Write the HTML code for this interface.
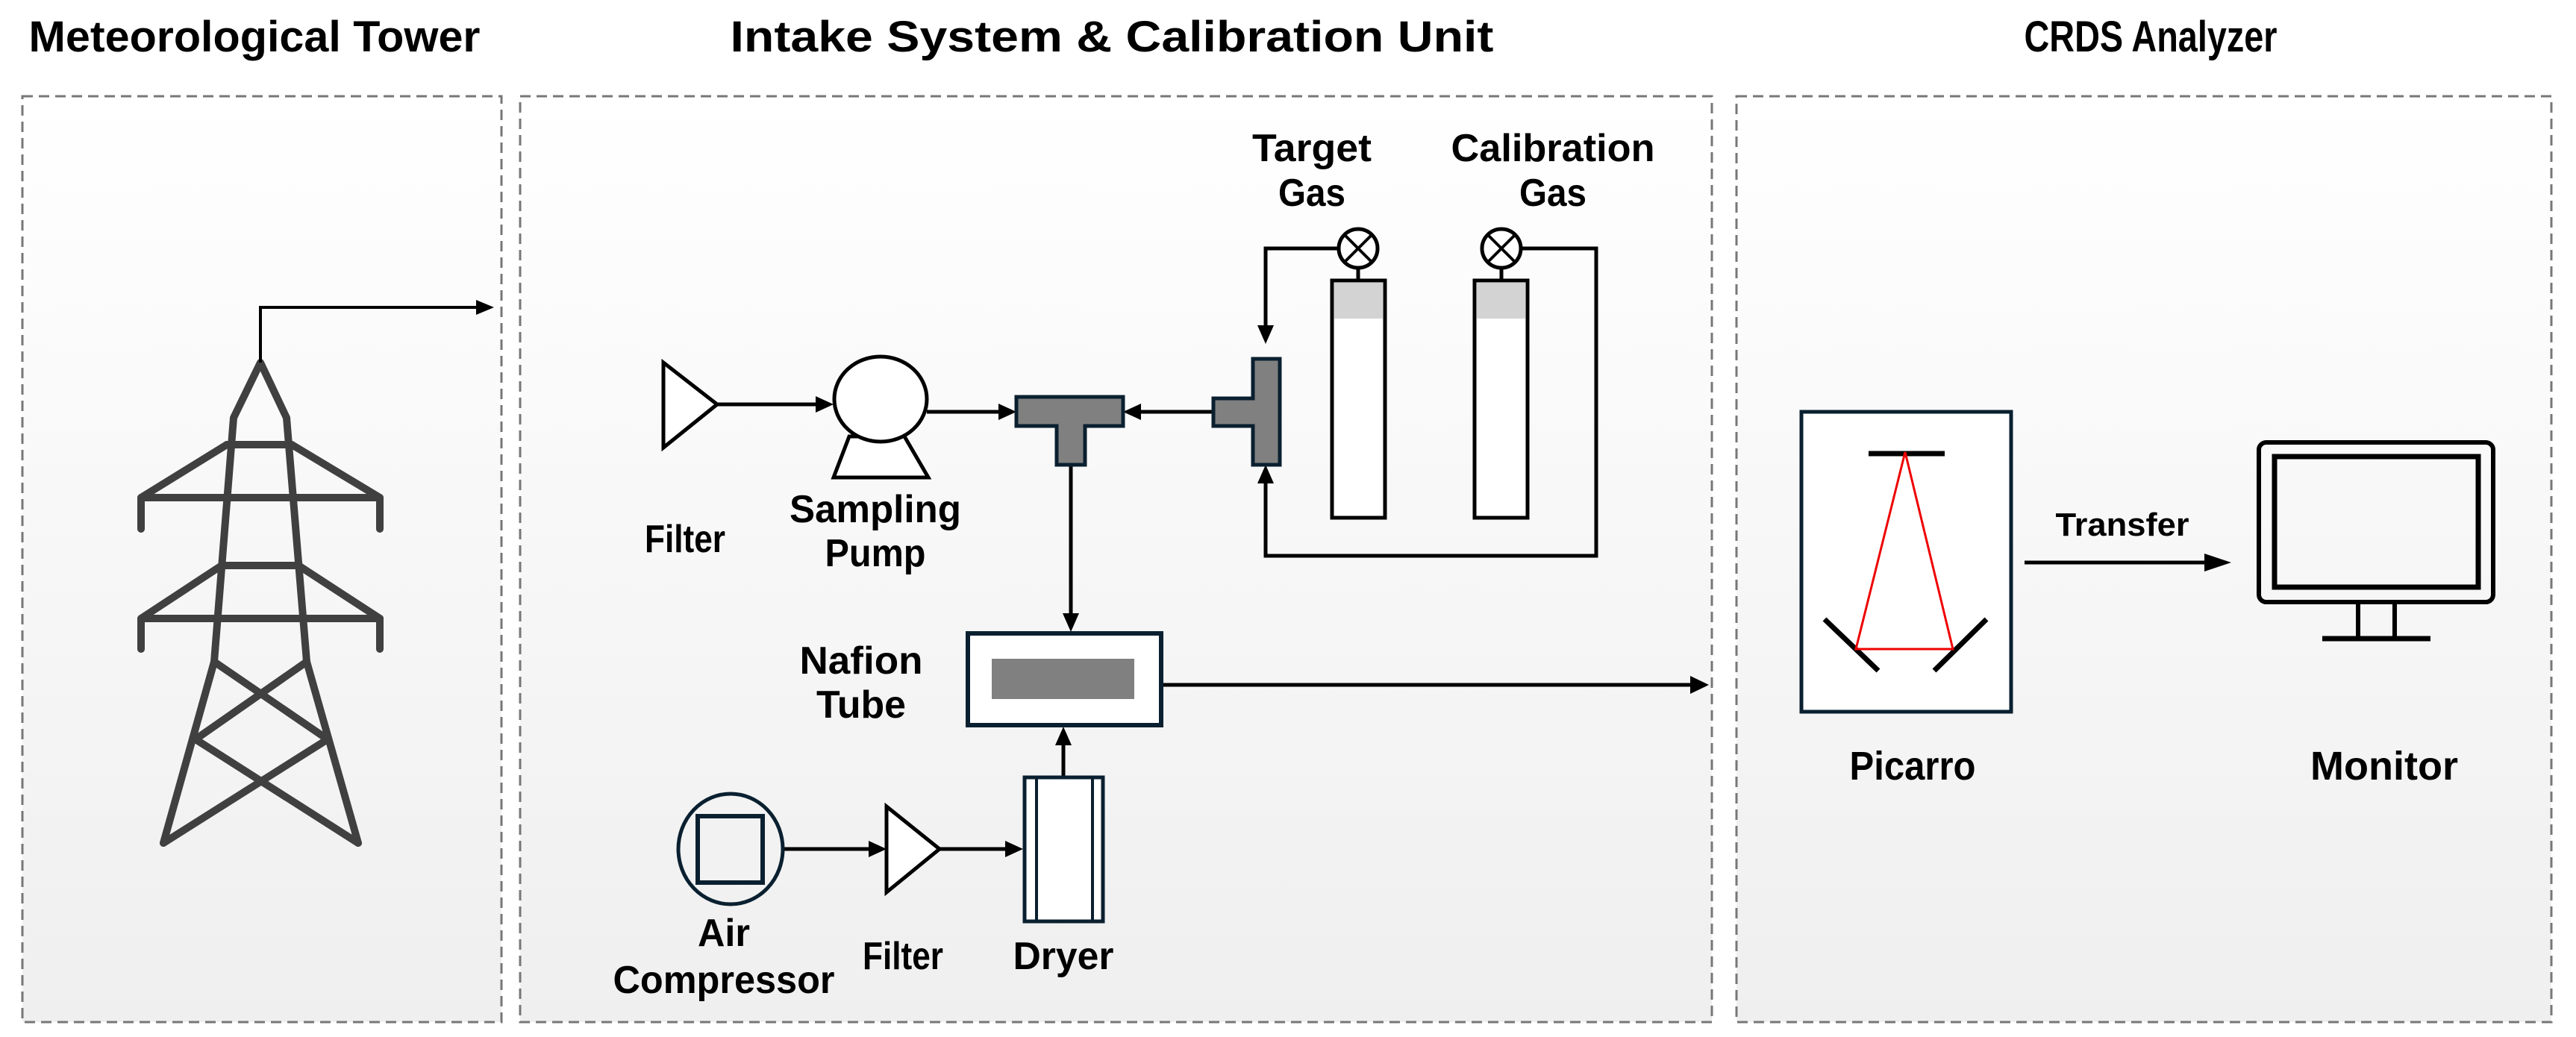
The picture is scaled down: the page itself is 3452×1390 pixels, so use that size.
<!DOCTYPE html>
<html><head><meta charset="utf-8">
<style>
html,body{margin:0;padding:0;background:#fff;}
svg{display:block;}
text{font-family:"Liberation Sans",sans-serif;font-weight:bold;fill:#000;}
</style></head>
<body>
<svg width="3452" height="1390" viewBox="0 0 3452 1390" xmlns="http://www.w3.org/2000/svg">
<defs>
<linearGradient id="bg" x1="0" y1="0" x2="0" y2="1">
<stop offset="0" stop-color="#ffffff"/><stop offset="1" stop-color="#efefef"/>
</linearGradient>
</defs>

<!-- titles -->
<text x="341" y="69" font-size="58" text-anchor="middle" textLength="605" lengthAdjust="spacingAndGlyphs">Meteorological Tower</text>
<text x="1490" y="69" font-size="58" text-anchor="middle" textLength="1023" lengthAdjust="spacingAndGlyphs">Intake System &amp; Calibration Unit</text>
<text x="2882" y="69" font-size="58" text-anchor="middle" textLength="339" lengthAdjust="spacingAndGlyphs">CRDS Analyzer</text>

<!-- panels -->
<g fill="url(#bg)" stroke="#777" stroke-width="3" stroke-dasharray="14 8">
<rect x="30" y="129" width="642" height="1241"/>
<rect x="697" y="129" width="1597" height="1241"/>
<rect x="2327" y="129" width="1092" height="1241"/>
</g>

<!-- tower -->
<g stroke="#404040" stroke-width="10" fill="none" stroke-linecap="round" stroke-linejoin="round">
<polyline points="287,887 313,560 349,486 384,560 411,887"/>
<line x1="304" y1="596" x2="391" y2="596"/>
<line x1="297" y1="758" x2="400" y2="758"/>
<polyline points="304,596 189,667 509,667 391,596"/>
<line x1="189" y1="667" x2="189" y2="709"/><line x1="509" y1="667" x2="509" y2="709"/>
<polyline points="297,758 189,829 509,829 400,758"/>
<line x1="189" y1="829" x2="189" y2="870"/><line x1="509" y1="829" x2="509" y2="870"/>
<line x1="287" y1="887" x2="219" y2="1130"/><line x1="411" y1="887" x2="480" y2="1130"/>
<line x1="287" y1="887" x2="439" y2="991"/><line x1="411" y1="887" x2="262" y2="991"/>
<line x1="262" y1="991" x2="480" y2="1130"/><line x1="439" y1="991" x2="219" y2="1130"/>
</g>
<polyline points="349,486 349,412 640,412" fill="none" stroke="#000" stroke-width="4"/>
<polygon points="662,412 638,402 638,422" fill="#000"/>

<!-- intake: lines -->
<g stroke="#000" stroke-width="5" fill="none">
<line x1="961" y1="542" x2="1095" y2="542"/>
<line x1="1242" y1="552" x2="1340" y2="552"/>
<line x1="1626" y1="552" x2="1527" y2="552"/>
<line x1="1435" y1="623" x2="1435" y2="826"/>
<polyline points="1793,333 1696,333 1696,440"/>
<polyline points="2039,333 2139,333 2139,745 1696,745 1696,645"/>
<line x1="1558" y1="918" x2="2268" y2="918"/>
<line x1="1425" y1="1040" x2="1425" y2="996"/>
<line x1="1051" y1="1138" x2="1166" y2="1138"/>
<line x1="1259" y1="1138" x2="1349" y2="1138"/>
<line x1="1820" y1="360" x2="1820" y2="376"/>
<line x1="2012" y1="360" x2="2012" y2="376"/>
</g>
<g fill="#000">
<polygon points="1117,542 1093,531 1093,553"/>
<polygon points="1362,552 1338,541 1338,563"/>
<polygon points="1505,552 1529,541 1529,563"/>
<polygon points="1435,847 1424,822 1446,822"/>
<polygon points="1696,461 1685,436 1707,436"/>
<polygon points="1696,623 1685,648 1707,648"/>
<polygon points="2290,918 2265,906 2265,930"/>
<polygon points="1425,974 1414,999 1436,999"/>
<polygon points="1188,1138 1164,1127 1164,1149"/>
<polygon points="1371,1138 1347,1127 1347,1149"/>
</g>

<!-- filter 1 -->
<polygon points="889,486 961,542 889,600" fill="#fff" stroke="#000" stroke-width="5"/>
<!-- pump -->
<polygon points="1138,585 1212,585 1244,640 1117,640" fill="#fff" stroke="#000" stroke-width="5"/>
<ellipse cx="1180" cy="535" rx="62" ry="57" fill="#fff" stroke="#000" stroke-width="5"/>
<!-- tees -->
<path d="M1362,532 H1505 V571 H1454 V623 H1416 V571 H1362 Z" fill="#808080" stroke="#0a2030" stroke-width="5"/>
<path d="M1679,481 H1715 V623 H1679 V571 H1626 V534 H1679 Z" fill="#808080" stroke="#0a2030" stroke-width="5"/>
<!-- cylinders -->
<rect x="1785" y="376" width="71" height="318" fill="#fff" stroke="#000" stroke-width="5"/>
<rect x="1788" y="379" width="65" height="48" fill="#d3d3d3"/>
<rect x="1976" y="376" width="71" height="318" fill="#fff" stroke="#000" stroke-width="5"/>
<rect x="1979" y="379" width="65" height="48" fill="#d3d3d3"/>
<!-- valves -->
<g fill="#fff" stroke="#000" stroke-width="5">
<circle cx="1820" cy="333" r="26"/>
<circle cx="2012" cy="333" r="26"/>
</g>
<g stroke="#000" stroke-width="4">
<line x1="1802" y1="315" x2="1838" y2="351"/><line x1="1838" y1="315" x2="1802" y2="351"/>
<line x1="1994" y1="315" x2="2030" y2="351"/><line x1="2030" y1="315" x2="1994" y2="351"/>
</g>
<!-- nafion -->
<rect x="1297" y="849" width="259" height="123" fill="#fff" stroke="#0a2030" stroke-width="6"/>
<rect x="1329" y="883" width="191" height="54" fill="#808080"/>
<!-- dryer -->
<rect x="1373" y="1042" width="105" height="193" fill="#fff" stroke="#0a2030" stroke-width="5"/>
<line x1="1389" y1="1042" x2="1389" y2="1235" stroke="#0a2030" stroke-width="4"/>
<line x1="1464" y1="1042" x2="1464" y2="1235" stroke="#0a2030" stroke-width="4"/>
<!-- compressor -->
<ellipse cx="979" cy="1138" rx="70" ry="74" fill="none" stroke="#0a2030" stroke-width="5"/>
<rect x="935" y="1094" width="87" height="89" fill="none" stroke="#0a2030" stroke-width="6"/>
<!-- filter 2 -->
<polygon points="1188,1081 1259,1138 1188,1196" fill="#fff" stroke="#000" stroke-width="5"/>

<!-- intake labels -->
<g font-size="52" text-anchor="middle">
<text x="1758" y="216" textLength="160" lengthAdjust="spacingAndGlyphs">Target</text>
<text x="1758" y="276" textLength="90" lengthAdjust="spacingAndGlyphs">Gas</text>
<text x="2081" y="216" textLength="273" lengthAdjust="spacingAndGlyphs">Calibration</text>
<text x="2081" y="276" textLength="90" lengthAdjust="spacingAndGlyphs">Gas</text>
<text x="918" y="740" textLength="108" lengthAdjust="spacingAndGlyphs">Filter</text>
<text x="1173" y="700" textLength="230" lengthAdjust="spacingAndGlyphs">Sampling</text>
<text x="1173" y="759" textLength="135" lengthAdjust="spacingAndGlyphs">Pump</text>
<text x="1154" y="903" textLength="165" lengthAdjust="spacingAndGlyphs">Nafion</text>
<text x="1154" y="962" textLength="120" lengthAdjust="spacingAndGlyphs">Tube</text>
<text x="970" y="1268" textLength="70" lengthAdjust="spacingAndGlyphs">Air</text>
<text x="970" y="1331" textLength="297" lengthAdjust="spacingAndGlyphs">Compressor</text>
<text x="1210" y="1299" textLength="108" lengthAdjust="spacingAndGlyphs">Filter</text>
<text x="1425" y="1299" textLength="135" lengthAdjust="spacingAndGlyphs">Dryer</text>
</g>

<!-- CRDS -->
<rect x="2414" y="552" width="281" height="402" fill="#fff" stroke="#0a2030" stroke-width="5"/>
<g stroke="#000" stroke-width="7">
<line x1="2504" y1="608" x2="2606" y2="608"/>
<line x1="2445" y1="830" x2="2517" y2="899"/>
<line x1="2662" y1="830" x2="2592" y2="899"/>
</g>
<polygon points="2553,606 2487,870 2617,870" fill="none" stroke="#ee0000" stroke-width="3"/>
<line x1="2713" y1="754" x2="2968" y2="754" stroke="#000" stroke-width="5"/>
<polygon points="2990,754 2954,742 2954,766" fill="#000"/>
<text x="2844" y="718" font-size="44" text-anchor="middle" textLength="179" lengthAdjust="spacingAndGlyphs">Transfer</text>
<!-- monitor -->
<rect x="3027" y="593" width="314" height="214" rx="10" fill="none" stroke="#000" stroke-width="6"/>
<rect x="3048" y="612" width="273" height="175" fill="none" stroke="#000" stroke-width="7"/>
<line x1="3160" y1="809" x2="3160" y2="856" stroke="#000" stroke-width="6"/>
<line x1="3209" y1="809" x2="3209" y2="856" stroke="#000" stroke-width="6"/>
<line x1="3112" y1="856" x2="3257" y2="856" stroke="#000" stroke-width="7"/>
<g font-size="54" text-anchor="middle">
<text x="2563" y="1045" textLength="169" lengthAdjust="spacingAndGlyphs">Picarro</text>
<text x="3195" y="1045" textLength="198" lengthAdjust="spacingAndGlyphs">Monitor</text>
</g>
</svg>
</body></html>
